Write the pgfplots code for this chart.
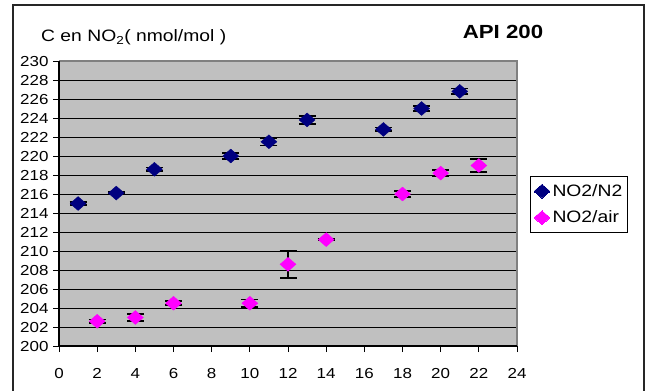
\documentclass[border=0pt]{standalone}
\usepackage{fontspec}
\setmainfont{Liberation Sans}[FakeStretch=1.17]
\usepackage{pgfplots}
\pgfplotsset{compat=1.18}
\definecolor{plotgray}{HTML}{C0C0C0}
\definecolor{navyc}{HTML}{000080}
\definecolor{magc}{HTML}{FF00FF}
\definecolor{bordergray}{HTML}{808080}
\pgfplotstableread{
x y e
1 215.0 0.15
3 216.1 0.12
5 218.6 0.2
9 220.0 0.35
11 221.5 0.4
13 223.8 0.45
17 222.8 0.2
19 225.0 0.3
21 226.8 0.3
}\dataN
\pgfplotstableread{
x y e
2 202.6 0.2
4 203.0 0.35
6 204.5 0.2
10 204.5 0.4
12 208.6 1.4
14 211.2 0.1
18 216.0 0.3
20 218.2 0.3
22 219.0 0.65
}\dataA
\begin{document}
\begin{tikzpicture}[x=1bp,y=1bp]
\useasboundingbox (0,0) rectangle (648,-390);
\draw[line width=2bp, color=black!85] (13,-395) -- (13,-5) -- (644,-5) -- (644,-395);
\node[font=\bfseries\fontsize{19bp}{21bp}\selectfont] at (503,-32) {API 200};
\node[anchor=base west, inner sep=0pt, font=\fontsize{16.5bp}{18bp}\selectfont] at (41,-41.7) {C en NO\textsubscript{2}( nmol/mol )};
\begin{axis}[
  at={(59bp,-346bp)}, anchor=south west,
  width=458bp, height=285bp, scale only axis,
  xmin=0, xmax=24, ymin=200, ymax=230,
  xtick={0,2,...,24}, ytick={200,202,...,230},
  axis background/.style={fill=plotgray},
  axis line style={draw=none},
  ymajorgrids, grid style={black, line width=1bp},
  tick style={black, line width=1bp},
  tick align=outside, major tick length=6bp,
  xtick pos=bottom, ytick pos=left,
  /pgf/number format/assume math mode=true,
  ticklabel style={font=\fontsize{14.5bp}{16bp}\selectfont},
  xticklabel style={yshift=-13bp},
  yticklabel style={xshift=-1bp},
  clip=false,
  legend style={at={(axis description cs:1,0.5965)}, anchor=north west, xshift=13bp,
    draw=black, line width=1bp, fill=white,
    font=\fontsize{16.5bp}{18bp}\selectfont,
    inner xsep=3bp, inner ysep=6bp, row sep=9bp},
  legend cell align=left,
  legend image code/.code={\path (0bp,0bp) -- (16bp,0bp); \draw[#1, line width=0pt] plot coordinates {(8bp,0bp)};},
  error bars/y dir=both, error bars/y explicit,
  error bars/error bar style={black, line width=1.6bp},
  error bars/error mark options={black, rotate=90, mark size=8.5bp, line width=1.8bp},
]
\addplot[only marks, mark=square*, mark size=4.9bp, color=navyc, mark options={xscale=1.15, rotate=45}]
  table[x=x, y=y, y error=e] {\dataN};
\addlegendentry{NO2/N2}
\addplot[only marks, mark=square*, mark size=4.9bp, color=magc, mark options={xscale=1.15, rotate=45}]
  table[x=x, y=y, y error=e] {\dataA};
\addlegendentry{NO2/air}
\draw[bordergray, line width=1.5bp] (rel axis cs:0,1) -- (rel axis cs:1,1) -- (rel axis cs:1,0);
\draw[black, line width=1.5bp] (rel axis cs:0,1) -- (rel axis cs:0,0) -- (rel axis cs:1,0);
\end{axis}
\end{tikzpicture}
\end{document}
